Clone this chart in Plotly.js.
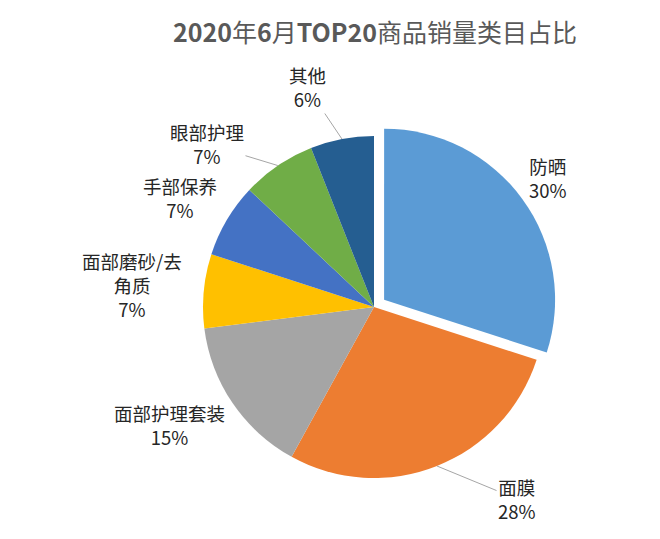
<!DOCTYPE html>
<html>
<head>
<meta charset="utf-8">
<script src="https://cdn.plot.ly/plotly-3.0.1.min.js"></script>
<style>
  html, body { margin: 0; padding: 0; background: #fff; }
  #plot { width: 660px; height: 539px; }
</style>
</head>
<body>
<div id="plot"></div>
<script>
// data
var categories = ['防晒', '面膜', '面部护理套装', '面部磨砂/去角质', '手部保养', '眼部护理', '其他'];
var values = [30, 28, 15, 7, 7, 7, 6];
var colors = ['#5B9BD5', '#ED7D31', '#A5A5A5', '#FFC000', '#4472C4', '#70AD47', '#255E91'];

// label layout (pixel centres of each label block) and which get a leader line
var labelPos = [[548, 178], [517, 499], [169, 425], [132, 285], [180, 198], [207, 144], [307, 87]];
var leader = [false, true, false, false, false, true, true];

// pie geometry in pixels
var W = 660, H = 539;
var cx = 374, cy = 307, R = 171, pullOut = 0.073;
var half = R * (1 + pullOut);

function wrap(s) {
  return s.length > 6 ? s.slice(0, 6) + '<br>' + s.slice(6) : s;
}

var total = 0;
for (var i = 0; i < values.length; i++) total += values[i];

var annotations = [];
var acc = 0;
for (var i = 0; i < values.length; i++) {
  var mid = (acc + values[i] / 2) / total * 2 * Math.PI;
  acc += values[i];
  var txt = wrap(categories[i]) + '<br>' + Math.round(values[i] / total * 100) + '%';
  var a = {
    text: txt,
    xref: 'x', yref: 'y',
    font: {family: 'Noto Sans CJK SC', size: 18.5, color: '#262626'},
    align: 'center'
  };
  if (leader[i]) {
    a.x = cx + R * Math.sin(mid);
    a.y = cy - R * Math.cos(mid);
    a.axref = 'x'; a.ayref = 'y';
    a.ax = labelPos[i][0];
    a.ay = labelPos[i][1];
    a.showarrow = true;
    a.arrowhead = 0;
    a.arrowwidth = 1;
    a.arrowcolor = '#A6A6A6';
    a.standoff = 0;
  } else {
    a.x = labelPos[i][0];
    a.y = labelPos[i][1];
    a.showarrow = false;
  }
  annotations.push(a);
}

var pie = {
  type: 'pie',
  labels: categories,
  values: values,
  sort: false,
  direction: 'clockwise',
  rotation: 0,
  pull: [pullOut, 0, 0, 0, 0, 0, 0],
  marker: {colors: colors, line: {width: 0}},
  textinfo: 'none',
  hoverinfo: 'label+percent',
  showlegend: false,
  domain: {
    x: [(cx - half) / W, (cx + half) / W],
    y: [(H - cy - half) / H, (H - cy + half) / H]
  }
};

// empty trace so the hidden pixel axes exist for the annotations
var dummy = {type: 'scatter', x: [], y: [], hoverinfo: 'skip', showlegend: false};

var layout = {
  width: W,
  height: H,
  margin: {l: 0, r: 0, t: 0, b: 0},
  paper_bgcolor: '#fff',
  plot_bgcolor: 'rgba(0,0,0,0)',
  title: {
    text: '<b>2020</b>年<b>6</b>月<b>TOP20</b>商品销量类目占比',
    font: {family: 'Noto Sans CJK SC', size: 25, color: '#595959'},
    x: 375 / W, xanchor: 'center',
    y: 1 - 33 / H, yanchor: 'middle'
  },
  xaxis: {range: [0, W], visible: false, fixedrange: true},
  yaxis: {range: [H, 0], visible: false, fixedrange: true},
  annotations: annotations
};

Plotly.newPlot('plot', [pie, dummy], layout, {displayModeBar: false, staticPlot: true});
</script>
</body>
</html>
